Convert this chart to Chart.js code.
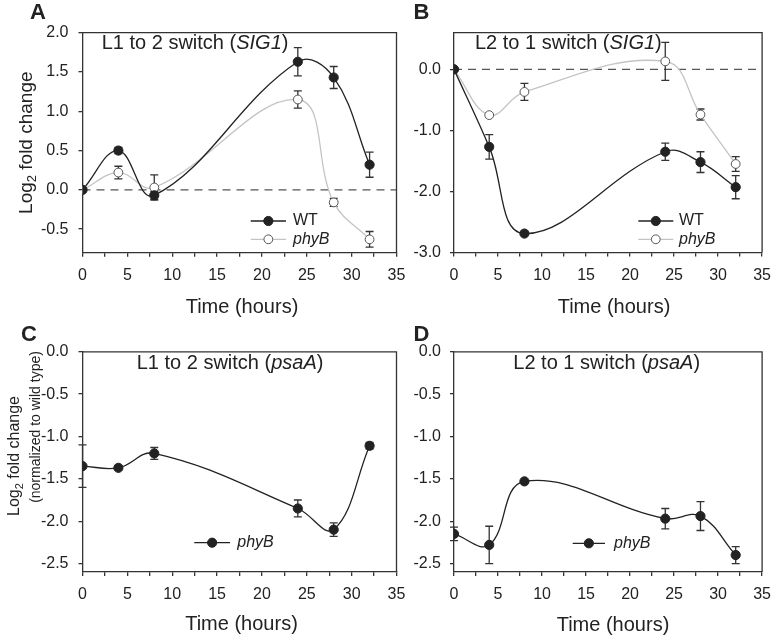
<!DOCTYPE html>
<html><head><meta charset="utf-8">
<script src="https://cdn.jsdelivr.net/npm/chart.js@4.4.0/dist/chart.umd.min.js"></script>
<style>
html,body{margin:0;padding:0;background:#fff;}
#wrap{position:relative;width:780px;height:642px;background:#fff;}
canvas{position:absolute;left:0;top:0;}
</style></head><body><div id="wrap">
<canvas id="cA" width="780" height="642"></canvas>
<canvas id="cB" width="780" height="642"></canvas>
<canvas id="cC" width="780" height="642"></canvas>
<canvas id="cD" width="780" height="642"></canvas>
</div>
<script>
// ---------- data ----------
const hours = [0, 4, 8, 24, 28, 32];

const sig1L1to2_WT       = [0, 0.50, -0.07, 1.63, 1.43, 0.32];
const sig1L1to2_WT_err   = [0, 0.04, 0.05, 0.18, 0.14, 0.16];
const sig1L1to2_phyB     = [0, 0.22, 0.03, 1.15, -0.16, -0.63];
const sig1L1to2_phyB_err = [0, 0.08, 0.16, 0.11, 0.05, 0.10];

const sig1L2to1_WT       = [0, -1.27, -2.69, -1.35, -1.52, -1.93];
const sig1L2to1_WT_err   = [0, 0.20, 0.02, 0.14, 0.17, 0.19];
const sig1L2to1_phyB     = [0, -0.75, -0.37, 0.13, -0.74, -1.55];
const sig1L2to1_phyB_err = [0, 0.02, 0.14, 0.31, 0.09, 0.12];

const psaAL1to2_phyB     = [-1.35, -1.37, -1.20, -1.85, -2.10, -1.11];
const psaAL1to2_phyB_err = [0.25, 0.02, 0.07, 0.10, 0.08, 0.04];
const psaAL2to1_phyB     = [-2.15, -2.28, -1.53, -1.97, -1.94, -2.40];
const psaAL2to1_phyB_err = [0.08, 0.22, 0.01, 0.12, 0.17, 0.10];

const xTicks   = [0, 2.5, 5, 7.5, 10, 12.5, 15, 17.5, 20, 22.5, 25, 27.5, 30, 32.5, 35];
const yTicksA  = [-0.5, 0, 0.5, 1.0, 1.5, 2.0];
const yTicksB  = [-3.0, -2.0, -1.0, 0.0];
const yTicksCD = [-2.5, -2.0, -1.5, -1.0, -0.5, 0.0];

const seriesNames = ['WT', 'phyB'];
const xAxisTitle = 'Time (hours)';

// ---------- styling ----------
const FONT = '"Liberation Sans", Arial, Helvetica, sans-serif';
const INK = '#222';
const AXIS = '#333';
Chart.defaults.font.family = FONT;
Chart.defaults.color = INK;

function pts(vals){ return hours.map((h,i)=>({x:h, y:vals[i]})); }

function filledDS(label, vals, errs, italic){
  return {label, data: pts(vals), errors: errs,
    borderColor:'#222', backgroundColor:'#222', borderWidth:1.3,
    pointRadius:4.6, pointBackgroundColor:'#222', pointBorderColor:'#222', pointBorderWidth:1,
    tension:0.4, italic:!!italic};
}
function openDS(label, vals, errs){
  return {label, data: pts(vals), errors: errs,
    borderColor:'#c4c4c4', backgroundColor:'#fff', borderWidth:1.3,
    pointRadius:4.4, pointBackgroundColor:'#fff', pointBorderColor:'#555', pointBorderWidth:1,
    tension:0.4, italic:true};
}

function richWidth(ctx, parts, size){
  let w = 0;
  parts.forEach(pt=>{
    const s = pt.sub ? Math.round(size*0.68) : size;
    ctx.font = (pt.i?'italic ':'') + s + 'px ' + FONT;
    w += ctx.measureText(pt.t).width;
  });
  return w;
}
function drawRich(ctx, parts, x, y, size){
  let cx = x;
  parts.forEach(pt=>{
    const s = pt.sub ? Math.round(size*0.68) : size;
    ctx.font = (pt.i?'italic ':'') + s + 'px ' + FONT;
    ctx.fillText(pt.t, cx, pt.sub ? y + size*0.28 : y);
    cx += ctx.measureText(pt.t).width;
  });
}

const panelPlugin = {
  id:'panel',
  beforeDatasetsDraw(chart){
    const p = chart.options.plugins.panel;
    const ctx = chart.ctx, ca = chart.chartArea;
    const xs = chart.scales.x, ys = chart.scales.y;
    ctx.save();
    if (p.zeroLine){
      const y0 = ys.getPixelForValue(0);
      ctx.strokeStyle = '#555'; ctx.lineWidth = 1.4; ctx.setLineDash([8,6]);
      ctx.beginPath(); ctx.moveTo(ca.left, y0); ctx.lineTo(ca.right, y0); ctx.stroke();
      ctx.setLineDash([]);
    }
    // error bars
    ctx.strokeStyle = AXIS; ctx.lineWidth = 1.3;
    chart.data.datasets.forEach(ds=>{
      ds.data.forEach((d,i)=>{
        const e = ds.errors[i]; if (!e) return;
        const px = xs.getPixelForValue(d.x);
        const pt = ys.getPixelForValue(d.y + e), pb = ys.getPixelForValue(d.y - e);
        ctx.beginPath();
        ctx.moveTo(px, pt); ctx.lineTo(px, pb);
        ctx.moveTo(px-4, pt); ctx.lineTo(px+4, pt);
        ctx.moveTo(px-4, pb); ctx.lineTo(px+4, pb);
        ctx.stroke();
      });
    });
    ctx.restore();
  },
  afterDraw(chart){
    const p = chart.options.plugins.panel;
    const ctx = chart.ctx, ca = chart.chartArea;
    ctx.save();
    // top/right frame
    ctx.strokeStyle = AXIS; ctx.lineWidth = 1.3;
    ctx.beginPath();
    ctx.moveTo(ca.left, ca.top); ctx.lineTo(ca.right, ca.top); ctx.lineTo(ca.right, ca.bottom);
    ctx.stroke();
    ctx.fillStyle = INK;
    ctx.textBaseline = 'middle'; ctx.textAlign = 'left';
    // in-plot title
    drawRich(ctx, p.title, p.titleX, p.titleY, 20);
    // legend
    p.legend.forEach(it=>{
      const ds = chart.data.datasets[it.ds];
      ctx.strokeStyle = ds.borderColor; ctx.lineWidth = 1.3;
      ctx.beginPath(); ctx.moveTo(p.legX1, it.y); ctx.lineTo(p.legX2, it.y); ctx.stroke();
      ctx.beginPath(); ctx.arc((p.legX1+p.legX2)/2, it.y, ds.pointRadius, 0, Math.PI*2);
      ctx.fillStyle = ds.pointBackgroundColor; ctx.fill();
      ctx.strokeStyle = ds.pointBorderColor; ctx.lineWidth = 1; ctx.stroke();
      ctx.fillStyle = INK;
      ctx.font = (ds.italic ? 'italic ' : '') + '16px ' + FONT;
      ctx.fillText(ds.label, p.legTX, it.y);
    });
    // x axis title
    ctx.textAlign = 'center'; ctx.textBaseline = 'alphabetic';
    ctx.font = '20px ' + FONT;
    ctx.fillText(xAxisTitle, p.xTitleX, p.xTitleY);
    // y axis title(s)
    (p.yTitles||[]).forEach(t=>{
      ctx.save();
      ctx.translate(t.x, t.y); ctx.rotate(-Math.PI/2);
      ctx.textBaseline = 'middle'; ctx.textAlign = 'left';
      const w = richWidth(ctx, t.parts, t.size);
      drawRich(ctx, t.parts, -w/2, 0, t.size);
      ctx.restore();
    });
    // panel letter
    ctx.textAlign = 'left'; ctx.textBaseline = 'alphabetic';
    ctx.font = 'bold 22px ' + FONT;
    ctx.fillText(p.letter, p.letterX, p.letterY);
    ctx.restore();
  }
};

const YW = 70, XH = 40;
function makePanel(id, o){
  const a = o.area;
  return new Chart(document.getElementById(id), {
    type:'line',
    data:{datasets:o.datasets},
    options:{
      responsive:false, animation:false, devicePixelRatio:1,
      layout:{padding:{left:a.l-YW, right:780-a.r, top:a.t, bottom:642-a.b-XH}},
      plugins:{legend:{display:false}, tooltip:{enabled:false}, panel:o.panel},
      scales:{
        x:{type:'linear', min:0, max:35,
          afterBuildTicks:s=>{ s.ticks = xTicks.map(v=>({value:v})); },
          afterFit:s=>{ s.height = XH; },
          ticks:{autoSkip:false, maxRotation:0, padding:9, color:INK, font:{size:16},
            callback:v=> (v % 5 === 0 ? String(v) : '')},
          grid:{drawOnChartArea:false, drawTicks:true, tickLength:4, color:AXIS, lineWidth:1.3},
          border:{display:true, color:AXIS, width:1.3}},
        y:{type:'linear', min:o.yMin, max:o.yMax,
          afterBuildTicks:s=>{ s.ticks = o.yTicks.map(v=>({value:v})); },
          afterFit:s=>{ s.width = YW; },
          ticks:{autoSkip:false, padding:o.yPad||10, color:INK, font:{size:16},
            callback:v=> v.toFixed(1)},
          grid:{drawOnChartArea:false, drawTicks:true, tickLength:4, color:AXIS, lineWidth:1.3},
          border:{display:true, color:AXIS, width:1.3}}
      }
    },
    plugins:[panelPlugin]
  });
}

const log2Title = () => [{t:'Log'},{t:'2',sub:true},{t:' fold change'}];

makePanel('cA', {
  area:{l:82.5, r:396.5, t:32.7, b:252.7},
  yMin:-0.8, yMax:2.0, yTicks:yTicksA,
  datasets:[filledDS(seriesNames[0], sig1L1to2_WT, sig1L1to2_WT_err),
            openDS(seriesNames[1], sig1L1to2_phyB, sig1L1to2_phyB_err)],
  panel:{zeroLine:true, title:[{t:'L1 to 2 switch ('},{t:'SIG1',i:true},{t:')'}], titleX:101.7, titleY:43.5,
    legend:[{ds:0,y:221},{ds:1,y:239.3}], legX1:250.7, legX2:286, legTX:293,
    xTitleX:242, xTitleY:312.5,
    yTitles:[{parts:log2Title(), x:27, y:142.7, size:19}],
    letter:'A', letterX:30, letterY:19}
});

makePanel('cB', {
  area:{l:454, r:768.3, t:32.7, b:252.5},
  yMin:-3.0, yMax:0.6, yTicks:yTicksB, yPad:9,
  datasets:[filledDS(seriesNames[0], sig1L2to1_WT, sig1L2to1_WT_err),
            openDS(seriesNames[1], sig1L2to1_phyB, sig1L2to1_phyB_err)],
  panel:{zeroLine:true, title:[{t:'L2 to 1 switch ('},{t:'SIG1',i:true},{t:')'}], titleX:475, titleY:43.5,
    legend:[{ds:0,y:221},{ds:1,y:239.3}], legX1:638.3, legX2:673.3, legTX:679,
    xTitleX:614, xTitleY:312.5,
    yTitles:[],
    letter:'B', letterX:413.5, letterY:19}
});

makePanel('cC', {
  area:{l:82.5, r:396.5, t:351.8, b:572},
  yMin:-2.6, yMax:0, yTicks:yTicksCD,
  datasets:[filledDS(seriesNames[1], psaAL1to2_phyB, psaAL1to2_phyB_err, true)],
  panel:{zeroLine:false, title:[{t:'L1 to 2 switch ('},{t:'psaA',i:true},{t:')'}], titleX:136.7, titleY:363.5,
    legend:[{ds:0,y:542.7}], legX1:194.3, legX2:230, legTX:237.3,
    xTitleX:241.5, xTitleY:630,
    yTitles:[{parts:log2Title(), x:15, y:456, size:16},
             {parts:[{t:'(normalized to wild type)'}], x:36.5, y:427, size:14}],
    letter:'C', letterX:21, letterY:340.5}
});

makePanel('cD', {
  area:{l:454, r:768.3, t:351.8, b:572},
  yMin:-2.6, yMax:0, yTicks:yTicksCD, yPad:9,
  datasets:[filledDS(seriesNames[1], psaAL2to1_phyB, psaAL2to1_phyB_err, true)],
  panel:{zeroLine:false, title:[{t:'L2 to 1 switch ('},{t:'psaA',i:true},{t:')'}], titleX:513.3, titleY:363.5,
    legend:[{ds:0,y:543.3}], legX1:572.7, legX2:605, legTX:614,
    xTitleX:613, xTitleY:631,
    yTitles:[],
    letter:'D', letterX:413.5, letterY:340.5}
});
</script>
</body></html>
